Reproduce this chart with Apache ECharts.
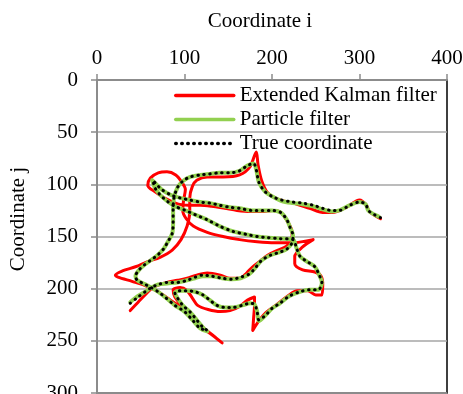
<!DOCTYPE html>
<html>
<head>
<meta charset="utf-8">
<script src="https://cdn.jsdelivr.net/npm/echarts@6/dist/echarts.min.js"></script>
<style>
  html, body { margin: 0; padding: 0; background: #fff; }
  #chart { width: 463px; height: 394px; }
</style>
</head>
<body>
<div id="chart"></div>
<script>
// Axis ticks
const xTicks = [0, 100, 200, 300, 400];
const yTicks = [0, 50, 100, 150, 200, 250, 300];

const seriesNames = ['Extended Kalman filter', 'Particle filter', 'True coordinate'];

// Trajectories as [i, j] pairs, in travel order
const ekfPath = [
  [38, 221], [47, 213], [56, 205], [64, 199], [72, 196], [80, 194], [92, 192], [103, 190],
  [114, 187], [126, 185], [141, 187], [152, 190], [163, 190], [171, 185], [178, 179], [186, 174],
  [195, 168], [207, 163], [217, 159], [223, 153], [223, 146], [218, 136], [210, 127], [201, 125],
  [188, 126], [175, 126], [160, 125], [146, 123], [131, 121], [118, 120], [104, 120], [93, 119],
  [79, 114], [66, 107], [58, 101], [61, 94], [70, 89], [80, 88], [90, 91], [97, 98],
  [101, 105], [99, 115], [98, 125], [102, 133], [110, 140], [126, 146], [144, 150], [163, 153],
  [183, 155], [203, 156], [224, 156], [247, 153], [235, 160], [226, 169], [226, 176], [235, 182],
  [249, 184], [256, 188], [258, 196], [257, 206], [250, 206], [241, 202], [229, 202], [218, 207],
  [206, 215], [193, 223], [184, 232], [178, 240], [179, 228], [180, 216], [180, 208], [172, 211],
  [163, 217], [152, 221], [141, 222], [127, 220], [115, 216], [109, 209], [103, 202], [95, 199],
  [87, 201], [89, 208], [98, 217], [110, 227], [121, 237], [133, 245], [143, 252], [134, 246],
  [122, 238], [111, 228], [98, 219], [84, 211], [70, 203], [55, 197], [40, 193], [24, 189],
  [21, 187], [29, 183], [44, 179], [58, 174], [72, 170], [86, 163], [96, 153], [103, 140],
  [106, 126], [106, 113], [109, 102], [114, 96], [126, 93], [144, 93], [163, 91], [175, 83],
  [182, 69], [184, 81], [188, 96], [195, 108], [209, 115], [224, 118], [243, 123], [258, 127],
  [269, 127], [285, 122], [300, 115], [308, 120], [311, 126], [324, 133]
];

const pfPath = [
  [38, 213], [47, 207], [55, 203], [62, 199], [70, 196], [80, 195], [92, 194], [103, 192],
  [112, 190], [121, 188], [131, 188], [143, 190], [154, 191], [164, 190], [174, 186], [180, 181],
  [188, 173], [198, 168], [209, 165], [217, 162], [223, 156], [224, 149], [221, 142], [217, 134],
  [210, 127], [200, 125], [188, 125], [177, 125], [163, 123], [152, 122], [140, 120], [129, 118],
  [118, 117], [106, 115], [95, 113], [84, 110], [74, 105], [68, 100], [63, 96], [66, 103],
  [72, 110], [80, 116], [89, 121], [101, 125], [112, 129], [126, 134], [140, 140], [155, 145],
  [171, 148], [183, 150], [194, 151], [209, 152], [224, 153], [228, 161], [232, 169], [240, 174],
  [249, 179], [254, 187], [257, 194], [253, 201], [243, 201], [232, 203], [220, 207], [209, 214],
  [200, 219], [192, 226], [185, 231], [183, 222], [180, 215], [175, 214], [166, 216], [155, 218],
  [146, 218], [137, 216], [129, 211], [121, 206], [112, 203], [103, 202], [95, 202], [89, 204],
  [92, 209], [98, 216], [106, 222], [114, 230], [121, 237], [126, 241], [118, 238], [109, 230],
  [100, 222], [89, 216], [79, 209], [70, 203], [62, 199], [53, 195], [46, 192], [44, 188],
  [47, 183], [53, 178], [61, 173], [69, 168], [76, 162], [81, 155], [86, 147], [87, 136],
  [87, 125], [88, 113], [92, 103], [98, 97], [106, 93], [118, 91], [129, 90], [140, 89],
  [152, 89], [163, 87], [172, 82], [179, 80], [182, 86], [185, 98], [192, 107], [201, 112],
  [211, 116], [224, 118], [235, 119], [247, 121], [258, 124], [268, 126], [277, 125], [289, 120],
  [300, 117], [307, 119], [310, 125], [317, 129], [322, 131]
];

const truePath = [
  [38, 214], [47, 208], [55, 203], [62, 199], [70, 196], [80, 194], [92, 194], [103, 192],
  [112, 189], [121, 187], [131, 188], [143, 190], [154, 191], [164, 189], [174, 186], [180, 181],
  [188, 173], [198, 168], [209, 165], [217, 162], [223, 156], [224, 149], [221, 142], [217, 134],
  [210, 127], [200, 125], [188, 125], [177, 125], [163, 123], [152, 122], [140, 120], [129, 118],
  [118, 117], [106, 115], [95, 113], [84, 110], [74, 105], [68, 100], [64, 96], [66, 103],
  [72, 110], [80, 116], [89, 121], [101, 125], [112, 129], [126, 134], [140, 140], [155, 145],
  [171, 148], [183, 150], [194, 151], [209, 152], [224, 153], [228, 161], [232, 169], [240, 174],
  [249, 179], [254, 187], [257, 194], [253, 201], [243, 201], [232, 203], [220, 207], [209, 214],
  [200, 219], [192, 226], [185, 230], [183, 222], [180, 215], [175, 214], [166, 216], [155, 218],
  [146, 218], [137, 216], [129, 211], [121, 206], [112, 203], [103, 202], [95, 202], [89, 204],
  [92, 209], [98, 216], [106, 222], [114, 230], [121, 237], [126, 240], [118, 238], [109, 230],
  [100, 222], [89, 216], [79, 209], [70, 203], [62, 199], [53, 195], [46, 192], [44, 188],
  [47, 183], [53, 178], [61, 173], [69, 168], [76, 162], [81, 155], [86, 147], [87, 136],
  [87, 125], [88, 113], [92, 103], [98, 97], [106, 93], [118, 91], [129, 90], [140, 89],
  [152, 89], [163, 87], [172, 82], [179, 80], [182, 86], [185, 98], [192, 107], [201, 112],
  [211, 115], [224, 117], [235, 118], [247, 120], [258, 123], [268, 125], [277, 125], [289, 120],
  [300, 117], [307, 119], [310, 125], [317, 129], [324, 132]
];

const FONT = '"Liberation Serif", "Times New Roman", serif';
const chart = echarts.init(document.getElementById('chart'), null, { renderer: 'canvas' });

chart.setOption({
  animation: false,
  backgroundColor: '#fff',
  grid: {
    left: 97, top: 80, width: 350, height: 313,
    outerBoundsMode: 'none', containLabel: false,
    show: true, borderColor: '#000', borderWidth: 1.5, backgroundColor: 'transparent'
  },
  legend: {
    orient: 'vertical',
    left: 174, top: 85,
    itemWidth: 58, itemHeight: 12, itemGap: 3,
    padding: 0,
    selectedMode: false,
    // line sample only, no marker in the middle
    itemStyle: { opacity: 0 },
    lineStyle: { width: 3.5 },
    textStyle: { fontFamily: FONT, fontSize: 21, color: '#000', padding: [0, 0, 0, 1] },
    data: seriesNames
  },
  graphic: [
    {
      type: 'text', x: 260, y: 21,
      style: { text: 'Coordinate i', font: '21px ' + FONT, fill: '#000', textAlign: 'center', textVerticalAlign: 'middle' }
    },
    {
      type: 'text', x: 18, y: 219, rotation: Math.PI / 2,
      style: { text: 'Coordinate j', font: '21px ' + FONT, fill: '#000', textAlign: 'center', textVerticalAlign: 'middle' }
    }
  ],
  xAxis: {
    type: 'value', position: 'top',
    min: xTicks[0], max: xTicks[xTicks.length - 1], interval: xTicks[1] - xTicks[0],
    axisLine: { show: true, lineStyle: { color: '#8c8c8c', width: 2 } },
    axisTick: { show: true, length: 6, lineStyle: { color: '#8c8c8c', width: 1.5 } },
    axisLabel: { fontFamily: FONT, fontSize: 21, color: '#000', margin: 11 },
    splitLine: { show: false }
  },
  yAxis: {
    type: 'value', inverse: true,
    min: yTicks[0], max: yTicks[yTicks.length - 1], interval: yTicks[1] - yTicks[0],
    axisLine: { show: true, lineStyle: { color: '#8c8c8c', width: 2 } },
    axisTick: { show: true, length: 6, lineStyle: { color: '#8c8c8c', width: 1.5 } },
    axisLabel: { fontFamily: FONT, fontSize: 21, color: '#000', margin: 19 },
    splitLine: { show: true, lineStyle: { color: '#a6a6a6', width: 1.5 } }
  },
  series: [
    {
      name: seriesNames[0], type: 'line', data: ekfPath,
      showSymbol: false, symbol: 'none', smooth: 0.3,
      lineStyle: { color: '#ff0000', width: 3, cap: 'round', join: 'round' },
      itemStyle: { color: '#ff0000' }
    },
    {
      name: seriesNames[1], type: 'line', data: pfPath,
      showSymbol: false, symbol: 'none', smooth: 0.3,
      lineStyle: { color: '#92d050', width: 4, cap: 'round', join: 'round' },
      itemStyle: { color: '#92d050' }
    },
    {
      name: seriesNames[2], type: 'line', data: truePath,
      showSymbol: false, symbol: 'none', smooth: 0.3,
      lineStyle: { color: '#000', width: 3, type: [0.5, 5.5], cap: 'round' },
      itemStyle: { color: '#000' }
    }
  ]
});
</script>
</body>
</html>
